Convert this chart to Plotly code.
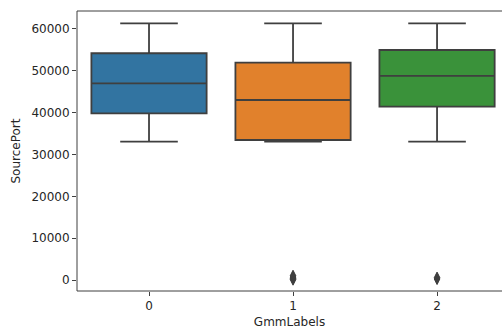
import plotly.graph_objects as go

# Per-cluster summary statistics of SourcePort
labels = [0, 1, 2]
q1 = [39850, 33470, 41430]
medians = [47000, 43030, 48770]
q3 = [54200, 51950, 54980]
lower_whisker = [33060, 33060, 33060]
upper_whisker = [61350, 61350, 61350]
box_colors = ["#3274a1", "#e1812c", "#3a923a"]

# Outliers (SourcePort values near zero)
outlier_labels = [1, 1, 1, 1, 2, 2]
outlier_values = [100, 400, 700, 1000, 250, 550]

y_ticks = [0, 10000, 20000, 30000, 40000, 50000, 60000]

edge = "#3f3f3f"
font = dict(family="DejaVu Sans", size=12, color="#262626")

fig = go.Figure()
for lab, a, m, b, lo, hi, c in zip(labels, q1, medians, q3, lower_whisker,
                                   upper_whisker, box_colors):
    fig.add_trace(go.Box(
        x=[lab], q1=[a], median=[m], q3=[b],
        lowerfence=[lo], upperfence=[hi],
        fillcolor=c, line=dict(color=edge, width=1.8),
        whiskerwidth=0.5, width=0.8, boxpoints=False,
        showlegend=False, hoverinfo="skip",
    ))

fig.add_trace(go.Scatter(
    x=outlier_labels, y=outlier_values, mode="markers",
    marker=dict(symbol="diamond-tall", size=8, color=edge,
                line=dict(color=edge, width=1)),
    showlegend=False, hoverinfo="skip",
))

# spines: left, bottom and top (the right one lies beyond the canvas)
for x0, y0, x1, y1 in [(0, 0, 0, 1), (0, 0, 1, 0), (0, 1, 1, 1)]:
    fig.add_shape(type="line", xref="paper", yref="paper",
                  x0=x0, y0=y0, x1=x1, y1=y1,
                  line=dict(color=edge, width=1), layer="above")

fig.update_layout(
    template="none",
    width=502, height=331,
    margin=dict(l=77, r=0, t=11, b=40, pad=0),
    paper_bgcolor="white", plot_bgcolor="white",
    font=font, showlegend=False,
)
fig.update_xaxes(
    type="linear", range=[-0.5, 2.451], showline=False, zeroline=False,
    tickvals=labels, ticktext=[str(v) for v in labels],
    ticks="outside", ticklen=4, tickcolor=edge, showgrid=False,
    automargin=False,
    title=dict(text="GmmLabels", font=font, standoff=5),
)
fig.update_yaxes(
    range=[-2630, 64300], tickvals=y_ticks, ticktext=[str(v) for v in y_ticks],
    showline=False, automargin=False,
    ticks="outside", ticklen=4, tickcolor=edge, showgrid=False, zeroline=False,
    title=dict(text="SourcePort", font=font, standoff=8),
)

fig.write_html("out.html")
